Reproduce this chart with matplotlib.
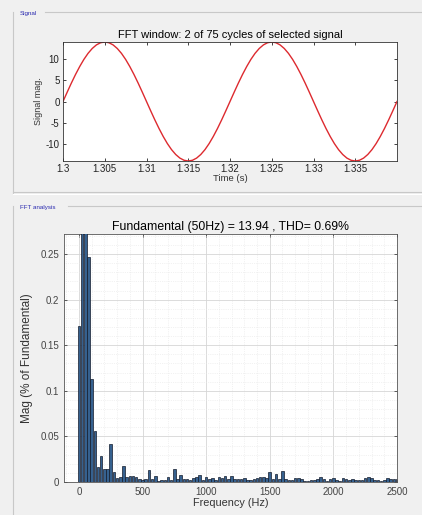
import numpy as np
import matplotlib
matplotlib.use("Agg")
import matplotlib.pyplot as plt
from matplotlib.ticker import MultipleLocator

plt.rcParams['font.family'] = ['Liberation Sans', 'DejaVu Sans']
plt.rcParams['axes.unicode_minus'] = False

# signal samples (every 0.5 ms)
t_start, t_end = 1.3, 1.34
sig = [0, 2.18, 4.31, 6.33, 8.19, 9.86, 11.28, 12.42, 13.26, 13.77,
       13.94, 13.77, 13.26, 12.42, 11.28, 9.86, 8.19, 6.33, 4.31, 2.18,
       0, -2.18, -4.31, -6.33, -8.19, -9.86, -11.28, -12.42, -13.26, -13.77,
       -13.94, -13.77, -13.26, -12.42, -11.28, -9.86, -8.19, -6.33, -4.31, -2.18,
       0, 2.18, 4.31, 6.33, 8.19, 9.86, 11.28, 12.42, 13.26, 13.77,
       13.94, 13.77, 13.26, 12.42, 11.28, 9.86, 8.19, 6.33, 4.31, 2.18,
       0, -2.18, -4.31, -6.33, -8.19, -9.86, -11.28, -12.42, -13.26, -13.77,
       -13.94, -13.77, -13.26, -12.42, -11.28, -9.86, -8.19, -6.33, -4.31, -2.18,
       0]
t = np.linspace(t_start, t_end, len(sig))
t_ticks = [1.3, 1.305, 1.31, 1.315, 1.32, 1.325, 1.33, 1.335]
t_labels = ['1.3', '1.305', '1.31', '1.315', '1.32', '1.325', '1.33', '1.335']

# FFT bins (25 Hz resolution), magnitude in % of fundamental
freq = np.arange(0, 2501, 25)
mag = [0.171, 0.5, 100, 0.247, 0.113, 0.056, 0.017, 0.029, 0.014, 0.014,
       0.042, 0.011, 0.004, 0.006, 0.018, 0.006, 0.007, 0.007, 0.005, 0.003,
       0.002, 0.003, 0.013, 0.003, 0.007, 0.001, 0.002, 0.002, 0.006, 0.002,
       0.014, 0.003, 0.008, 0.003, 0.003, 0.002, 0.004, 0.005, 0.008, 0.002,
       0.005, 0.003, 0.004, 0.002, 0.006, 0.004, 0.007, 0.003, 0.007, 0.003,
       0.003, 0.003, 0.004, 0.002, 0.002, 0.003, 0.004, 0.005, 0.005, 0.004,
       0.011, 0.003, 0.009, 0.003, 0.012, 0.003, 0.002, 0.002, 0.004, 0.004,
       0.003, 0.001, 0.001, 0.002, 0.002, 0.003, 0.005, 0.003, 0.001, 0.003,
       0.004, 0.002, 0.001, 0.004, 0.003, 0.002, 0.003, 0.002, 0.002, 0.002,
       0.004, 0.005, 0.004, 0.002, 0.002, 0.001, 0.002, 0.004, 0.003, 0.003,
       0.003]

W, H = 422, 515
fig = plt.figure(figsize=(W / 100, H / 100), dpi=100)
fig.patch.set_facecolor('#f0f0f0')

def px(x0, y0, x1, y1):
    # pixel box -> figure fraction rect
    return [x0 / W, 1 - y1 / H, (x1 - x0) / W, (y1 - y0) / H]

# panel frames
def hline(y, x0, x1, c='#c8c8c8'):
    fig.add_artist(plt.Line2D([x0 / W, x1 / W], [1 - y / H, 1 - y / H], color=c, lw=0.8))
def vline(x, y0, y1, c='#c8c8c8'):
    fig.add_artist(plt.Line2D([x / W, x / W], [1 - y0 / H, 1 - y1 / H], color=c, lw=0.8))

hline(12, 45, W)
vline(13.5, 12, 193)
hline(192, 13, W)
hline(194, 13, W, '#ffffff')
hline(206, 68, W)
vline(13.5, 206, H)
fig.text(20 / W, 1 - 13 / H, 'Signal', color='#2b2bb0', fontsize=4.5, va='center')
fig.text(20 / W, 1 - 207 / H, 'FFT analysis', color='#2b2bb0', fontsize=4.5, va='center')

# --- signal plot
ax1 = fig.add_axes(px(63, 42, 397, 161))
ax1.plot(t, sig, color='#dd2a2f', lw=1.0)
ax1.set_xlim(t_start, t_end)
ax1.set_ylim(-13.94, 13.94)
ax1.set_xticks(t_ticks)
ax1.set_xticklabels(t_labels)
ax1.set_yticks([-10, -5, 0, 5, 10])
ax1.tick_params(direction='in', top=True, right=True, labelsize=7, length=2.5,
                width=0.6, colors='#222222', pad=2.5)
for s in ax1.spines.values():
    s.set_linewidth(0.6)
    s.set_color('#333333')
ax1.set_title('FFT window: 2 of 75 cycles of selected signal', fontsize=8, pad=3)
ax1.set_xlabel('Time (s)', fontsize=6.8, labelpad=0, color='#333333')
ax1.set_ylabel('Signal mag.', fontsize=6.5, labelpad=2, color='#333333')

# --- FFT plot
ax2 = fig.add_axes(px(64, 234, 397, 482))
ax2.bar(freq, mag, width=20, color='#36618f', edgecolor='#121b2c', linewidth=0.5, zorder=3)
ax2.set_xlim(-117, 2500)
ax2.set_ylim(0, 0.272)
ax2.set_xticks([0, 500, 1000, 1500, 2000, 2500])
ax2.set_yticks([0, 0.05, 0.1, 0.15, 0.2, 0.25])
ax2.set_yticklabels(['0', '0.05', '0.1', '0.15', '0.2', '0.25'])
ax2.xaxis.set_minor_locator(MultipleLocator(100))
ax2.yaxis.set_minor_locator(MultipleLocator(0.01))
ax2.grid(True, which='major', color='#d6d6d6', lw=0.6, zorder=0)
ax2.grid(True, which='minor', color='#e6e6e6', lw=0.5, ls=':', zorder=0)
ax2.set_axisbelow(True)
ax2.tick_params(which='major', direction='in', top=True, right=True, labelsize=7,
                length=2.5, width=0.6, colors='#444444', pad=3.5)
ax2.tick_params(which='minor', length=0)
for s in ax2.spines.values():
    s.set_linewidth(0.6)
    s.set_color('#555555')
ax2.set_title('Fundamental (50Hz) = 13.94 , THD= 0.69%', fontsize=8.8, pad=3)
ax2.set_xlabel('Frequency (Hz)', fontsize=7.8, labelpad=1, color='#333333')
ax2.set_ylabel('Mag (% of Fundamental)', fontsize=8.5, labelpad=5, color='#333333')

fig.savefig('out.png', dpi=100, facecolor=fig.get_facecolor())
